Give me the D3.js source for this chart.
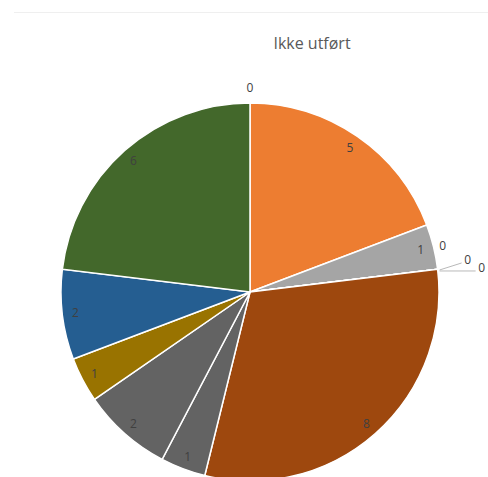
<!DOCTYPE html>
<meta charset="utf-8">
<html>
<head>
  <script src="https://d3js.org/d3.v7.min.js"></script>
  <style>
    body {
      margin: 0;
      background: #fff;
      font-family: "Open Sans", "Liberation Sans", sans-serif;
    }
    .title {
      font-size: 16px;
      fill: #595959;
    }
    .lbl {
      font-size: 12px;
      fill: #404040;
    }
  </style>
</head>
<body>
  <script>
    // data (clockwise from 12 o'clock)
    var categories = ["K1", "K2", "K3", "K4", "K5", "K6", "K7", "K8", "K9", "K10", "K11", "K12"];
    var values = [0, 5, 1, 0, 0, 0, 8, 1, 2, 1, 2, 6];
    var colors = ["#4472c4", "#ed7d31", "#a5a5a5", "#ffc000", "#5b9bd5", "#70ad47",
      "#9e480e", "#636363", "#636363", "#997300", "#255e91", "#43682b"];
    var title = "Ikke utført";

    var width = 488,
      height = 477;
    var cx = 250,
      cy = 292,
      radius = 189;

    var svg = d3.select("body")
      .append("svg")
      .attr("width", width)
      .attr("height", height);

    // faint border line at the top
    svg.append("line")
      .attr("x1", 14).attr("x2", width)
      .attr("y1", 12.5).attr("y2", 12.5)
      .style("stroke", "#efefef")
      .style("stroke-width", 1);

    svg.append("text")
      .attr("class", "title")
      .attr("x", 312)
      .attr("y", 49)
      .attr("text-anchor", "middle")
      .text(title);

    var data = categories.map(function (c, i) {
      return { name: c, value: values[i], color: colors[i] };
    });

    var pie = d3.pie()
      .sort(null)
      .value(function (d) { return d.value; });

    var arcs = pie(data);

    var arc = d3.arc()
      .innerRadius(0)
      .outerRadius(radius);

    var g = svg.append("g")
      .attr("transform", "translate(" + cx + "," + cy + ")");

    g.selectAll("path.slice")
      .data(arcs)
      .enter()
      .append("path")
      .attr("class", "slice")
      .attr("d", arc)
      .style("fill", function (d) { return d.data.color; })
      .style("stroke", "#fff")
      .style("stroke-width", 1.5);

    // labels inside the slices, near the rim
    var labelArc = d3.arc()
      .innerRadius(radius * 0.93)
      .outerRadius(radius * 0.93);

    g.selectAll("text.in")
      .data(arcs.filter(function (d) { return d.data.value > 0; }))
      .enter()
      .append("text")
      .attr("class", "lbl")
      .attr("text-anchor", "middle")
      .attr("dy", "0.35em")
      .attr("transform", function (d) {
        return "translate(" + labelArc.centroid(d) + ")";
      })
      .text(function (d) { return d.data.value; });

    // zero slices get their labels outside, stacked with leader lines
    var zeroNudge = [[0, -13], [3, -23], [28, -9], [42, -1]];
    var zeros = arcs.filter(function (d) { return d.data.value === 0; });

    zeros.forEach(function (d, k) {
      var a = d.startAngle;
      var px = Math.sin(a) * (radius + 2);
      var py = -Math.cos(a) * (radius + 2);
      var n = zeroNudge[k];
      var lx = px + n[0],
        ly = py + n[1];
      if (k >= 2) {
        g.append("polyline")
          .attr("points", [[px, py + k - 1], [lx - 6, ly + 3]].map(function (p) { return p.join(","); }).join(" "))
          .style("fill", "none")
          .style("stroke", "#a6a6a6")
          .style("stroke-width", 0.8);
      }
      g.append("text")
        .attr("class", "lbl")
        .attr("text-anchor", "middle")
        .attr("dy", "0.35em")
        .attr("x", lx)
        .attr("y", ly)
        .text(d.data.value);
    });
  </script>
</body>
</html>
